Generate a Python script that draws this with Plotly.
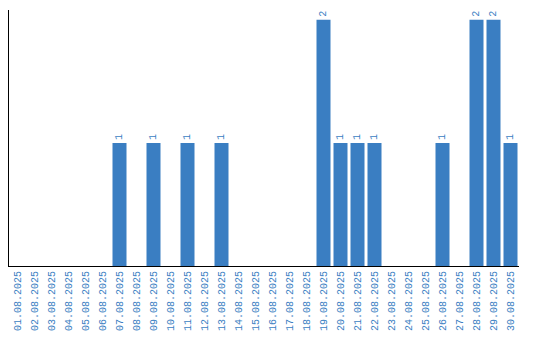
import plotly.graph_objects as go

dates = [f"{d:02d}.08.2025" for d in range(1, 31)]
counts = [0, 0, 0, 0, 0, 0, 1, 0, 1, 0,
          1, 0, 1, 0, 0, 0, 0, 0, 2, 1,
          1, 1, 0, 0, 0, 1, 0, 2, 2, 1]

blue = "#3a7ec2"
texts = [str(c) if c > 0 else "" for c in counts]

fig = go.Figure(go.Bar(
    x=dates, y=counts, marker_color=blue, marker_line_width=0,
    text=texts, textposition="outside", textangle=-90, cliponaxis=False,
    textfont=dict(family="Liberation Mono", size=10, color=blue),
))
fig.update_layout(
    width=540, height=340,
    margin=dict(l=9, r=21, t=10, b=70),
    plot_bgcolor="white", paper_bgcolor="white",
    bargap=0.176, showlegend=False,
    xaxis=dict(type="category", showline=True, linecolor="black", linewidth=1,
               ticks="", tickangle=-90, showgrid=False,
               tickfont=dict(family="Liberation Mono", size=10, color=blue)),
    yaxis=dict(range=[0, 2.08], showline=True, linecolor="black", linewidth=1,
               showticklabels=False, ticks="", showgrid=False, zeroline=False),
)
fig.write_html("out.html")
